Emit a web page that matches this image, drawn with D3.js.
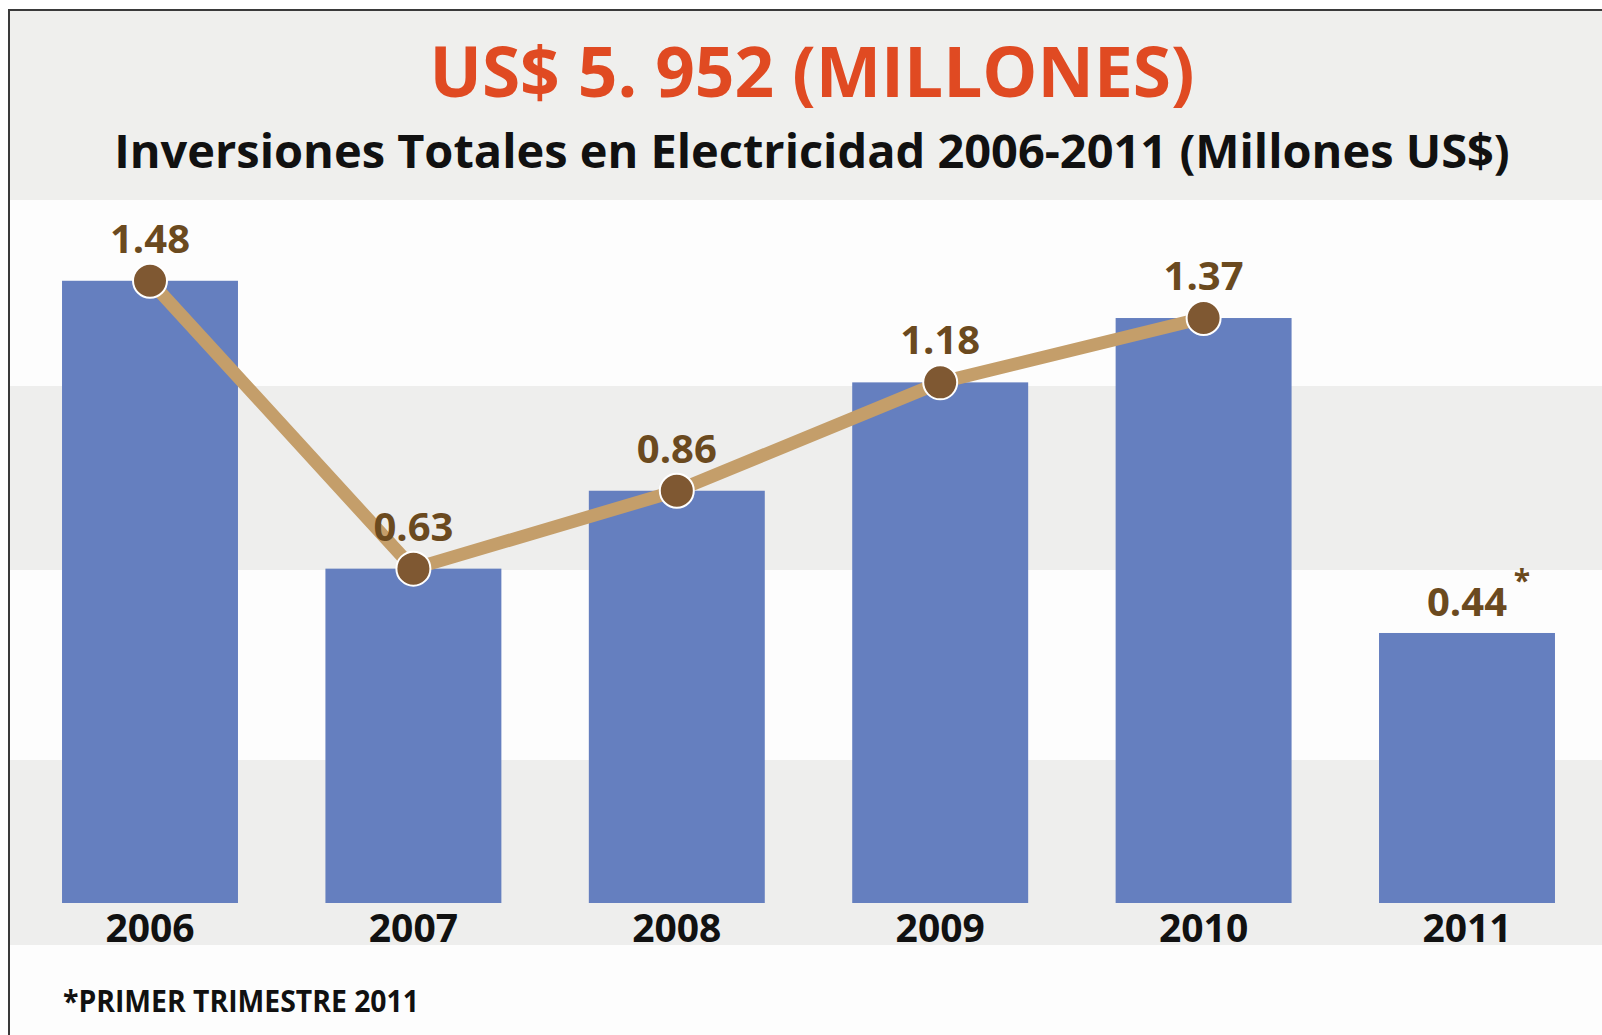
<!DOCTYPE html>
<html>
<head>
<meta charset="utf-8">
<script src="https://cdn.jsdelivr.net/npm/d3@7"></script>
<style>
  html, body { margin: 0; padding: 0; background: #ffffff; }
  svg { display: block; }
  text { font-family: "Open Sans", "Noto Sans", sans-serif; font-weight: 700; }
</style>
</head>
<body>
<svg id="chart" width="1602" height="1035"></svg>
<script>
// Annual investment in electricity (thousands of millions US$)
const years = ["2006", "2007", "2008", "2009", "2010", "2011"];
const inversiones = [1.48, 0.63, 0.86, 1.18, 1.37, 0.44];
const valueLabels = ["1.48", "0.63", "0.86", "1.18", "1.37", "0.44"];
// The trend line covers the full years only
const lineYears = ["2006", "2007", "2008", "2009", "2010"];
const lineValues = [1.48, 0.63, 0.86, 1.18, 1.37];
// Alternating background bands (value breaks)
const bandBreaks = [200, 386, 570, 760, 945, 1035];

const titleText = "US$ 5. 952 (MILLONES)";
const subtitleText = "Inversiones Totales en Electricidad 2006-2011 (Millones US$)";
const footnoteText = "*PRIMER TRIMESTRE 2011";

const W = 1602, H = 1035;
const svg = d3.select("#chart");

const baseline = 903;

const x = d3.scaleBand()
  .domain(years)
  .range([18.3, 1598.7])
  .paddingInner(0.332)
  .paddingOuter(0.166);

const y = d3.scaleLinear()
  .domain([0, 1.5])
  .range([782, 274]);

// Header panel
svg.append("rect")
  .attr("x", 9).attr("y", 10).attr("width", W - 9).attr("height", bandBreaks[0] - 10)
  .attr("fill", "#efefed");

// Plot background bands
for (let i = 0; i < bandBreaks.length - 1; i++) {
  svg.append("rect")
    .attr("x", 9).attr("y", bandBreaks[i])
    .attr("width", W - 9).attr("height", bandBreaks[i + 1] - bandBreaks[i])
    .attr("fill", i % 2 === 0 ? "#fdfdfd" : "#eeeeed");
}

// Frame
svg.append("path")
  .attr("d", `M9,${H} L9,10 L${W},10`)
  .attr("fill", "none")
  .attr("stroke", "#3a3a3a")
  .attr("stroke-width", 2);

// Fit a text element to a target width by adjusting its font size
function fitWidth(sel, target) {
  const node = sel.node();
  const size = parseFloat(sel.attr("font-size"));
  const len = node.getComputedTextLength();
  sel.attr("font-size", (size * target / len).toFixed(2));
}

// Titles
const title = svg.append("text")
  .attr("x", 812).attr("y", 97)
  .attr("text-anchor", "middle")
  .attr("font-size", 70)
  .attr("fill", "#e04a22")
  .text(titleText);
fitWidth(title, 765);

const subtitle = svg.append("text")
  .attr("x", 812).attr("y", 168)
  .attr("text-anchor", "middle")
  .attr("font-size", 42)
  .attr("fill", "#111111")
  .text(subtitleText);
fitWidth(subtitle, 1396);

// Bars
svg.append("g").selectAll("rect")
  .data(years)
  .join("rect")
  .attr("x", d => x(d))
  .attr("y", (d, i) => y(inversiones[i]))
  .attr("width", x.bandwidth())
  .attr("height", (d, i) => baseline - y(inversiones[i]))
  .attr("fill", "#657fbf");

// Year labels
svg.append("g").selectAll("text")
  .data(years)
  .join("text")
  .attr("x", d => x(d) + x.bandwidth() / 2)
  .attr("y", 942)
  .attr("text-anchor", "middle")
  .attr("font-size", 39)
  .attr("fill", "#111111")
  .text(d => d);

// Trend line
const cx = d => x(d) + x.bandwidth() / 2;
const lineGen = d3.line()
  .x((d, i) => cx(lineYears[i]))
  .y(d => y(d));

svg.append("path")
  .datum(lineValues)
  .attr("d", lineGen)
  .attr("fill", "none")
  .attr("stroke", "#c49e6a")
  .attr("stroke-width", 13)
  .attr("stroke-linejoin", "round");

svg.append("g").selectAll("circle")
  .data(lineValues)
  .join("circle")
  .attr("cx", (d, i) => cx(lineYears[i]))
  .attr("cy", d => y(d))
  .attr("r", 17)
  .attr("fill", "#7f5832")
  .attr("stroke", "#ffffff")
  .attr("stroke-width", 2);

// Value labels
const labelG = svg.append("g");
years.forEach((yr, i) => {
  const onLine = lineYears.includes(yr);
  labelG.append("text")
    .attr("x", cx(yr))
    .attr("y", y(inversiones[i]) - (onLine ? 28 : 17))
    .attr("text-anchor", "middle")
    .attr("font-size", 40)
    .attr("fill", "#6b4a1f")
    .text(valueLabels[i]);
  if (!onLine) {
    labelG.append("text")
      .attr("x", cx(yr) + 55)
      .attr("y", y(inversiones[i]) - 42)
      .attr("text-anchor", "middle")
      .attr("font-size", 30)
      .attr("fill", "#6b4a1f")
      .text("*");
  }
});

// Footnote
svg.append("text")
  .attr("x", 63).attr("y", 1012)
  .attr("font-size", 30)
  .attr("fill", "#111111")
  .attr("textLength", 356)
  .attr("lengthAdjust", "spacingAndGlyphs")
  .text(footnoteText);
</script>
</body>
</html>
